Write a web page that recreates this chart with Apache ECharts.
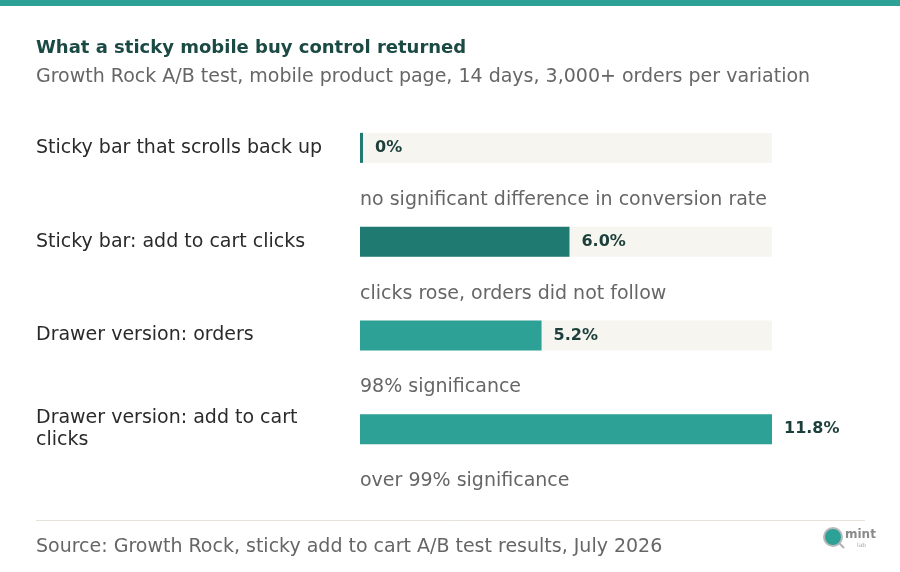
<!DOCTYPE html>
<html><head><meta charset="utf-8">
<script src="https://cdn.jsdelivr.net/npm/echarts@6/dist/echarts.min.js"></script>
<style>html,body{margin:0;padding:0;background:#fff}#c{width:900px;height:572px}</style>
</head><body><div id="c"></div>
<script>
const categories = ['Sticky bar that scrolls back up', 'Sticky bar: add to cart clicks', 'Drawer version: orders', 'Drawer version: add to cart clicks'];
const values = [0, 6.0, 5.2, 11.8];
const labels = ['0%', '6.0%', '5.2%', '11.8%'];
const notes = ['no significant difference in conversion rate', 'clicks rose, orders did not follow', '98% significance', 'over 99% significance'];
const barColors = ['#1f7a72', '#1f7a72', '#2ea197', '#2ea197'];
const trackMax = 11.8;

const FONT = 'DejaVu Sans';
const chart = echarts.init(document.getElementById('c'));
chart.setOption({
  backgroundColor: '#ffffff',
  textStyle: { fontFamily: FONT },
  animation: false,
  title: [
    { text: 'What a sticky mobile buy control returned', left: 36, top: 39, padding: 0,
      textStyle: { fontFamily: FONT, fontSize: 18, fontWeight: 'bold', color: '#1b4a45' } },
    { text: 'Growth Rock A/B test, mobile product page, 14 days, 3,000+ orders per variation', left: 36, top: 68, padding: 0,
      textStyle: { fontFamily: FONT, fontSize: 19, fontWeight: 'normal', color: '#666666' } },
    { text: 'Source: Growth Rock, sticky add to cart A/B test results, July 2026', left: 36, top: 538, padding: 0,
      textStyle: { fontFamily: FONT, fontSize: 19, fontWeight: 'normal', color: '#666666' } }
  ],
  grid: { left: 360, right: 128, top: 101, bottom: 96, containLabel: false },
  xAxis: { type: 'value', min: 0, max: trackMax, show: false },
  yAxis: {
    type: 'category', data: categories, inverse: true,
    axisLine: { show: false }, axisTick: { show: false }, splitLine: { show: false },
    axisLabel: { margin: 324, align: 'left', fontFamily: FONT, fontSize: 19, color: '#2a2a2a',
      width: 296, overflow: 'break', lineHeight: 22 }
  },
  series: [
    { type: 'bar', barWidth: 30, silent: true, z: 1,
      data: categories.map(() => trackMax),
      itemStyle: { color: '#f7f5f0' },
      label: { show: true, position: 'insideLeft', distance: 0, offset: [0, 52],
        formatter: p => notes[p.dataIndex], fontFamily: FONT, fontSize: 19, color: '#666666' } },
    { type: 'bar', barWidth: 30, barGap: '-100%', barMinHeight: 3, z: 2,
      data: values.map((v, i) => ({ value: v, itemStyle: { color: barColors[i] } })),
      label: { show: true, position: 'right', distance: 12,
        formatter: p => labels[p.dataIndex], fontFamily: FONT, fontSize: 16, fontWeight: 'bold', color: '#1c3f3b' } }
  ],
  graphic: [
    { type: 'rect', shape: { x: 0, y: 0, width: 900, height: 6 }, style: { fill: '#2ea197' } },
    { type: 'line', shape: { x1: 36, y1: 520.5, x2: 865, y2: 520.5 }, style: { stroke: '#e6e2d6', lineWidth: 1 } },
    { type: 'circle', shape: { cx: 833, cy: 537, r: 9 }, style: { fill: '#2ea197', stroke: '#b9b9b9', lineWidth: 2 } },
    { type: 'line', shape: { x1: 839, y1: 543, x2: 844, y2: 548 }, style: { stroke: '#b0b0b0', lineWidth: 2 } },
    { type: 'text', style: { x: 845, y: 535, text: 'mint', fill: '#8a8a8a', font: 'bold 12px ' + FONT, textVerticalAlign: 'middle' } },
    { type: 'text', style: { x: 857, y: 545, text: 'lab', fill: '#aaaaaa', font: '6px ' + FONT, textVerticalAlign: 'middle' } }
  ]
});
</script></body></html>
